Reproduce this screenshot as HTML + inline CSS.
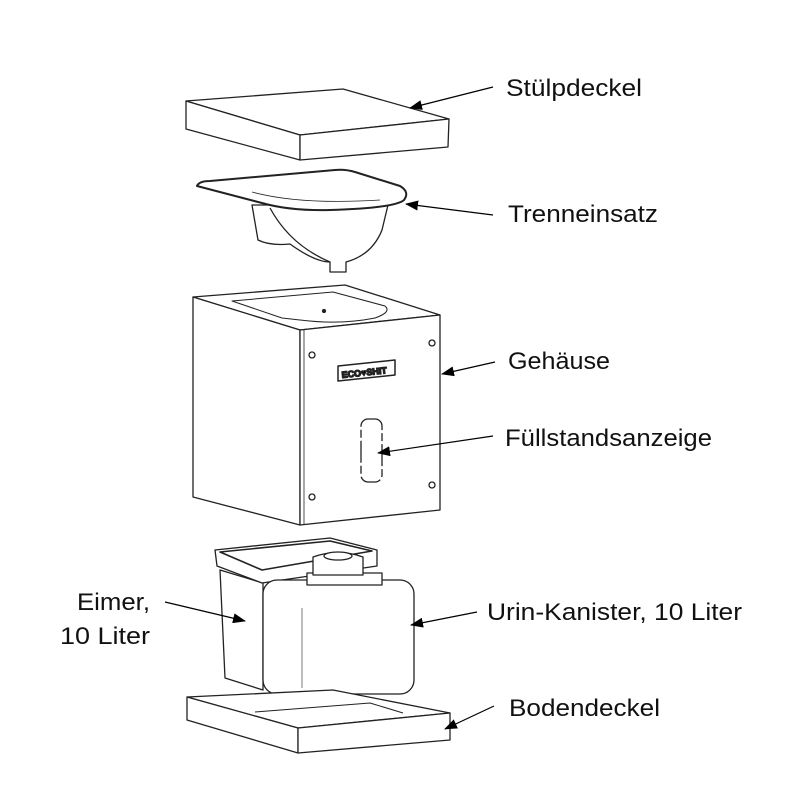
<!DOCTYPE html>
<html><head><meta charset="utf-8"><style>
html,body{margin:0;padding:0;background:#fff}
svg{display:block}
text{font-family:"Liberation Sans",sans-serif;font-size:24px;fill:#111}
</style></head><body>
<svg width="800" height="800" viewBox="0 0 800 800" xmlns="http://www.w3.org/2000/svg">
<defs><marker id="a" markerWidth="13" markerHeight="10" refX="12" refY="5" orient="auto" markerUnits="userSpaceOnUse"><path d="M0,0 L13,5 L0,10 Z" fill="#000"/></marker></defs>
<g fill="#fff" stroke="#222" stroke-width="1.3" stroke-linejoin="round">
<path d="M186,101 L343,89 L449,119 L300,135 Z"/>
<path d="M186,101 L300,135 L300,160 L186,129 Z"/>
<path d="M300,135 L449,119 L448,147 L300,160 Z"/>
<path d="M252,205 L258,240 Q270,246 290,244 Q315,262 330,262 L330,272 L346,272 L346,262 Q372,255 382,230 L388,205 Z"/>
<path d="M270,208 Q290,245 330,262" fill="none"/>
<path d="M197,186 Q199,181 210,181 L335,170 Q345,169 355,172 L400,186 Q410,192 404,200 Q395,208 330,210 Q290,211 262,203 Z" stroke-width="2"/>
<path d="M252,192 Q300,205 380,200" fill="none" stroke-width="0.8"/>
<path d="M193,297 L345,285 L440,315 L300,330 Z"/>
<path d="M232,301 L333,292 L385,306 Q392,312 375,318 Q340,325 300,320 L282,318 Z" stroke-width="1"/>
<path d="M193,297 L300,330 L300,525 L193,497 Z"/>
<path d="M300,330 L440,315 L440,510 L300,525 Z"/>
<line x1="304" y1="330" x2="304" y2="524" stroke-width="0.8"/>
<circle cx="312" cy="355" r="3"/><circle cx="432" cy="343" r="3"/>
<circle cx="312" cy="497" r="3"/><circle cx="432" cy="485" r="3"/>
<circle cx="324" cy="311" r="1.5" fill="#222"/>
<path d="M338,366 L395,360 L395,375 L338,381 Z" stroke-width="1.5"/>
<text x="342" y="378" style="font-size:9px;font-weight:bold" transform="rotate(-6 342 378)">ECO♥SHIT</text>
<rect x="361" y="419" width="21" height="63" rx="7" stroke-dasharray="22 3 8 3"/>
<path d="M220,570 L225,678 L263,690 L263,583 Z"/>
<path d="M215,550 L330,538 L377,550 L377,566 L262,583 L217,566 Z"/>
<path d="M220,552 L330,541 L372,551 L262,570 Z" stroke-width="1.6"/>
<rect x="263" y="580" width="151" height="114" rx="14"/>
<line x1="302" y1="608" x2="302" y2="688" stroke-width="0.6"/>
<path d="M307,573 L382,573 L382,585 L307,585 Z"/>
<path d="M313,557 Q338,548 363,557 L363,575 L313,575 Z"/>
<ellipse cx="338" cy="556" rx="14" ry="4"/>
<path d="M187,697 L333,690 L450,713 L298,728 Z"/>
<path d="M187,697 L298,728 L298,753 L187,720 Z"/>
<path d="M298,728 L450,713 L450,740 L298,753 Z"/>
<path d="M255,712 L370,703 L403,713" fill="none" stroke-width="1"/>
</g>
<g stroke="#000" stroke-width="1.2" fill="none" marker-end="url(#a)">
<line x1="493" y1="87" x2="410" y2="108"/>
<line x1="493" y1="215" x2="406" y2="204"/>
<line x1="495" y1="362" x2="442" y2="374"/>
<line x1="493" y1="436" x2="378" y2="453"/>
<line x1="165" y1="602" x2="245" y2="621"/>
<line x1="477" y1="612" x2="411" y2="625"/>
<line x1="494" y1="706" x2="445" y2="729"/>
</g>
<g>
<text x="506" y="96" textLength="136" lengthAdjust="spacingAndGlyphs">Stülpdeckel</text>
<text x="508" y="222" textLength="150" lengthAdjust="spacingAndGlyphs">Trenneinsatz</text>
<text x="508" y="369" textLength="102" lengthAdjust="spacingAndGlyphs">Gehäuse</text>
<text x="505" y="446" textLength="207" lengthAdjust="spacingAndGlyphs">Füllstandsanzeige</text>
<text x="77" y="610" textLength="73" lengthAdjust="spacingAndGlyphs">Eimer,</text>
<text x="60" y="644" textLength="90" lengthAdjust="spacingAndGlyphs">10 Liter</text>
<text x="487" y="620" textLength="255" lengthAdjust="spacingAndGlyphs">Urin-Kanister, 10 Liter</text>
<text x="509" y="716" textLength="151" lengthAdjust="spacingAndGlyphs">Bodendeckel</text>
</g>
</svg>
</body></html>
